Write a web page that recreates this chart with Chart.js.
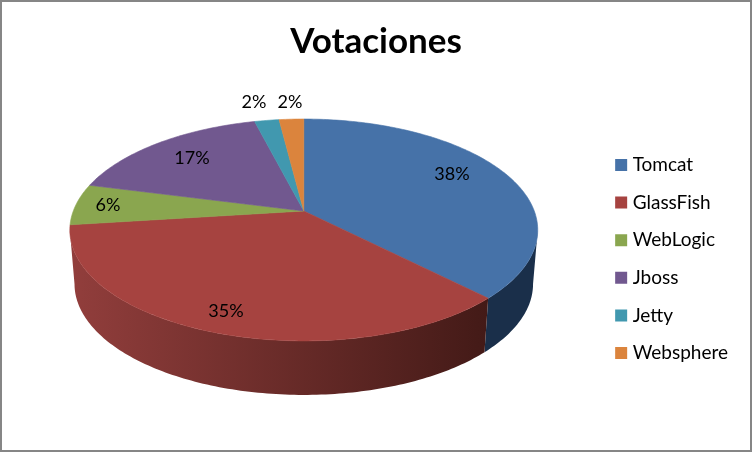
<!DOCTYPE html>
<html>
<head>
<meta charset="utf-8">
<title>Votaciones</title>
<script src="https://cdn.jsdelivr.net/npm/chart.js@4"></script>
<style>
html, body { margin: 0; padding: 0; background: #fff; overflow: hidden; }
canvas { display: block; }
</style>
</head>
<body>
<canvas id="votaciones" width="752" height="452"></canvas>
<script>
const titleText = 'Votaciones';
const categories = ['Tomcat', 'GlassFish', 'WebLogic', 'Jboss', 'Jetty', 'Websphere'];
const votes = [37.6, 35.4, 6, 17, 2, 2];

const topColors = ['#4672a8', '#a64340', '#8aa64f', '#71588f', '#4198af', '#db843d'];
const wallColors = [['#1a2f4a', '#1a2f4a'], ['#923e3c', '#431a17'], ['#5c6e34', '#5c6e34'],
    ['#4a3a5f', '#4a3a5f'], ['#2b6574', '#2b6574'], ['#8f5727', '#8f5727']];
// where the percentages sit, the original places them by hand
const labelSpots = [[452, 174], [226, 311], [108, 205], [192, 158], [254, 102], [290, 102]];

// fake 3D: perspective view of a flat disc, then the rim pushed down
const view = { shiftX: -3.5, shiftY: -46.25, radX: 230.5, radY: 107.7, tilt: 0.171, depth: 54, shrink: 0.98 };
const legendDrop = 33;

function rimPoint(el, angle) {
    const u = Math.cos(angle), v = Math.sin(angle);
    const k = 1 - view.tilt * v;
    return {
        x: el.x + view.shiftX + view.radX * u / k,
        y: el.y + view.shiftY + view.radY * v / k
    };
}

function rimPoints(el, from, to) {
    const pts = [];
    const steps = Math.max(2, Math.ceil((to - from) * 60));
    for (let i = 0; i <= steps; i++) {
        pts.push(rimPoint(el, from + (to - from) * i / steps));
    }
    return pts;
}

const pie3d = {
    id: 'pie3d',
    afterLayout(chart) {
        chart.legend.top += legendDrop;
        chart.legend.bottom += legendDrop;
    },
    beforeDatasetsDraw(chart) {
        const ctx = chart.ctx;
        const arcs = chart.getDatasetMeta(0).data;
        const centerX = arcs[0].x + view.shiftX;
        // only the front of the rim shows, it ends where the outline turns back
        const frontFrom = Math.asin(view.tilt);
        const frontTo = Math.PI - frontFrom;

        ctx.save();
        arcs.forEach((el, i) => {
            const from = Math.max(el.startAngle, frontFrom);
            const to = Math.min(el.endAngle, frontTo);
            if (to <= from) return;
            const pts = rimPoints(el, from, to);
            const low = pts.map(p => ({ x: centerX + (p.x - centerX) * view.shrink, y: p.y + view.depth }));
            const xs = pts.map(p => p.x);
            const grad = ctx.createLinearGradient(Math.min(...xs), 0, Math.max(...xs), 0);
            grad.addColorStop(0, wallColors[i][0]);
            grad.addColorStop(1, wallColors[i][1]);
            ctx.beginPath();
            pts.forEach((p, j) => j ? ctx.lineTo(p.x, p.y) : ctx.moveTo(p.x, p.y));
            low.reverse().forEach(p => ctx.lineTo(p.x, p.y));
            ctx.closePath();
            ctx.fillStyle = grad;
            ctx.fill();
        });
        arcs.forEach((el, i) => {
            ctx.beginPath();
            ctx.moveTo(centerX, el.y + view.shiftY);
            rimPoints(el, el.startAngle, el.endAngle).forEach(p => ctx.lineTo(p.x, p.y));
            ctx.closePath();
            ctx.fillStyle = topColors[i];
            ctx.strokeStyle = topColors[i];
            ctx.lineWidth = 0.6;
            ctx.fill();
            ctx.stroke();
        });

        ctx.fillStyle = '#000';
        ctx.font = '18px Lato';
        ctx.textAlign = 'center';
        ctx.textBaseline = 'middle';
        votes.forEach((v, i) => ctx.fillText(Math.round(v) + '%', labelSpots[i][0], labelSpots[i][1]));
        ctx.restore();
        return false;
    },
    afterDraw(chart) {
        const ctx = chart.ctx;
        ctx.save();
        ctx.strokeStyle = '#868686';
        ctx.lineWidth = 2;
        ctx.strokeRect(1, 1, chart.width - 2, chart.height - 2);
        ctx.restore();
    }
};

new Chart(document.getElementById('votaciones'), {
    type: 'pie',
    data: {
        labels: categories,
        datasets: [{
            data: votes,
            backgroundColor: topColors,
            borderColor: topColors,
            borderWidth: 8
        }]
    },
    options: {
        responsive: false,
        animation: false,
        devicePixelRatio: 1,
        layout: { padding: { left: 14, right: 14 } },
        plugins: {
            title: {
                display: true,
                text: titleText,
                color: '#000',
                font: { family: 'Lato', size: 35, weight: 'bold' },
                padding: { top: 20.5, bottom: 0 }
            },
            legend: {
                position: 'right',
                labels: {
                    color: '#000',
                    font: { family: 'Lato', size: 19 },
                    boxWidth: 4,
                    boxHeight: 4,
                    padding: 18.6
                }
            },
            tooltip: { enabled: false }
        }
    },
    plugins: [pie3d]
});
</script>
</body>
</html>
